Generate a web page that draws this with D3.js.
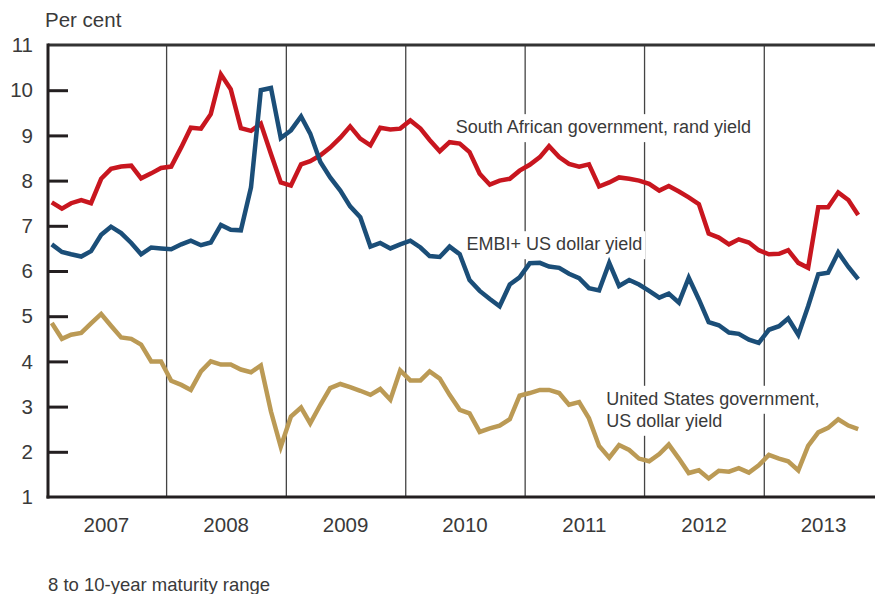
<!DOCTYPE html>
<html>
<head>
<meta charset="utf-8">
<script src="https://cdn.jsdelivr.net/npm/d3@7"></script>
<style>
  body { margin: 0; background: #fff; }
  svg text { font-family: "Liberation Sans", Arial, sans-serif; fill: #3a3a3a; }
</style>
</head>
<body>
<svg id="grafico" width="875" height="594"></svg>
<script>
// monthly data, Jan 2007 .. Oct 2013
const firstMonth = new Date(2007, 0, 1);
const lastMonth = new Date(2013, 9, 1);

const saRandYield = [
  7.52, 7.38, 7.50, 7.57, 7.50, 8.04, 8.26, 8.31, 8.33, 8.05, 8.16, 8.28,
  8.31, 8.74, 9.17, 9.15, 9.47, 10.35, 10.02, 9.16, 9.10, 9.26, 8.59, 7.96,
  7.89, 8.36, 8.43, 8.56, 8.73, 8.95, 9.20, 8.93, 8.78, 9.17, 9.13, 9.15,
  9.33, 9.15, 8.90, 8.65, 8.85, 8.82, 8.63, 8.15, 7.91, 8.00, 8.04, 8.22,
  8.35, 8.52, 8.76, 8.52, 8.37, 8.31, 8.36, 7.87, 7.96, 8.07, 8.04, 8.00,
  7.93, 7.78, 7.88, 7.76, 7.63, 7.48, 6.83, 6.74, 6.59, 6.70, 6.63, 6.46,
  6.37, 6.38, 6.46, 6.18, 6.07, 7.41, 7.41, 7.74, 7.57, 7.24
];

const embiYield = [
  6.59, 6.42, 6.37, 6.32, 6.44, 6.80, 6.98, 6.84, 6.62, 6.37, 6.52, 6.50,
  6.48, 6.59, 6.67, 6.57, 6.63, 7.02, 6.91, 6.90, 7.85, 10.00, 10.05, 8.94,
  9.11, 9.42, 9.04, 8.41, 8.07, 7.78, 7.43, 7.19, 6.54, 6.62, 6.50, 6.59,
  6.67, 6.52, 6.33, 6.31, 6.54, 6.37, 5.80, 5.56, 5.38, 5.22, 5.70, 5.86,
  6.17, 6.18, 6.10, 6.07, 5.94, 5.84, 5.62, 5.57, 6.18, 5.67, 5.80, 5.70,
  5.56, 5.41, 5.50, 5.30, 5.85, 5.37, 4.87, 4.80, 4.64, 4.61, 4.48, 4.41,
  4.70, 4.78, 4.95, 4.59, 5.22, 5.93, 5.96, 6.41, 6.09, 5.82
];

const usYield = [
  4.85, 4.50, 4.59, 4.63, 4.84, 5.05, 4.79, 4.53, 4.50, 4.37, 4.00, 4.00,
  3.57, 3.48, 3.37, 3.78, 4.00, 3.93, 3.93, 3.82, 3.76, 3.91, 2.89, 2.11,
  2.78, 2.98, 2.63, 3.04, 3.41, 3.50, 3.43, 3.35, 3.26, 3.39, 3.15, 3.80,
  3.58, 3.58, 3.78, 3.62, 3.26, 2.93, 2.85, 2.44, 2.52, 2.58, 2.72, 3.24,
  3.30, 3.37, 3.37, 3.30, 3.04, 3.10, 2.74, 2.13, 1.87, 2.15, 2.04, 1.85,
  1.79, 1.95, 2.16, 1.85, 1.53, 1.59, 1.41, 1.58, 1.56, 1.64, 1.54, 1.70,
  1.93, 1.85, 1.79, 1.59, 2.13, 2.43, 2.53, 2.72, 2.58, 2.50
];

const years = [2007, 2008, 2009, 2010, 2011, 2012, 2013];
const yTicks = [1, 2, 3, 4, 5, 6, 7, 8, 9, 10, 11];

const yLabel = "Per cent";
const footnote = "8 to 10-year maturity range";
const series = [
  {name: "sa",   values: saRandYield, color: "#c8161f",
   label: ["South African government, rand yield"], at: [new Date(2010, 5, 3), 9.05]},
  {name: "embi", values: embiYield,   color: "#1b4e78",
   label: ["EMBI+ US dollar yield"], at: [new Date(2010, 6, 6), 6.46]},
  {name: "us",   values: usYield,     color: "#bb9a55",
   label: ["United States government,", "US dollar yield"], at: [new Date(2011, 8, 6), 3.04]}
];

const width = 875, height = 594;
const margin = {top: 45, right: 0, bottom: 97, left: 48};
const axis_font_size = "20.5px";
const labels_font_size = "18px";

let svg = d3.select("#grafico");

// months, plotted in the middle of each month
let months = d3.timeMonth.range(firstMonth, d3.timeMonth.offset(lastMonth, 1));

let x = d3.scaleTime()
  .domain([new Date(2007, 0, 1), new Date(2014, 0, 1)])
  .range([margin.left - 0.8, margin.left - 0.8 + 7 * 119.5]);

let y = d3.scaleLinear()
  .domain([1, 11])
  .range([height - margin.bottom, margin.top]);

let midMonth = d => d3.timeDay.offset(d, 14);

// vertical year separators
svg.append("g")
  .selectAll("line")
  .data(years.slice(1))
  .join("line")
  .attr("x1", d => x(new Date(d, 0, 1)))
  .attr("x2", d => x(new Date(d, 0, 1)))
  .attr("y1", y(11))
  .attr("y2", y(1))
  .attr("stroke", "#444")
  .attr("stroke-width", 1.3);

// labels of the series, with a white box behind (cuts the separators)
let labels = svg.append("g");
series.forEach(s => {
  s.label.forEach((txt, i) => {
    let t = labels.append("text")
      .attr("x", x(s.at[0]))
      .attr("y", y(s.at[1]) + i * 22)
      .style("font-size", labels_font_size)
      .text(txt);
    let b = t.node().getBBox();
    labels.insert("rect", "text")
      .attr("x", b.x - 3)
      .attr("y", b.y - 3)
      .attr("width", b.width + 6)
      .attr("height", b.height + 8)
      .attr("fill", "#fff");
  });
});

// lines
let line = d3.line()
  .x((d, i) => x(midMonth(months[i])))
  .y(d => y(d));

svg.append("g")
  .selectAll("path")
  .data(series)
  .join("path")
  .attr("d", s => line(s.values))
  .attr("fill", "none")
  .attr("stroke", s => s.color)
  .attr("stroke-width", 4.5)
  .attr("stroke-linejoin", "miter")
  .attr("stroke-linecap", "butt");

// frame: top, left and bottom
svg.append("line")
  .attr("x1", margin.left).attr("x2", width)
  .attr("y1", y(11)).attr("y2", y(11))
  .attr("stroke", "#333").attr("stroke-width", 3);

svg.append("line")
  .attr("x1", margin.left - 1.5).attr("x2", width)
  .attr("y1", y(1)).attr("y2", y(1))
  .attr("stroke", "#231f20").attr("stroke-width", 3);

svg.append("line")
  .attr("x1", margin.left).attr("x2", margin.left)
  .attr("y1", y(11) - 1.5).attr("y2", y(1) + 1.5)
  .attr("stroke", "#231f20").attr("stroke-width", 3);

// y axis (ticks point inward)
let yAxis = d3.axisRight(y)
  .tickValues(yTicks.slice(1, -1))
  .tickSize(20)
  .tickFormat("");

svg.append("g")
  .attr("transform", "translate(" + margin.left + ",0)")
  .call(yAxis)
  .call(g => g.select(".domain").remove())
  .call(g => g.selectAll("line").attr("stroke", "#231f20").attr("stroke-width", 3));

svg.append("g")
  .selectAll("text")
  .data(yTicks)
  .join("text")
  .attr("x", 33)
  .attr("y", d => y(d))
  .attr("dy", "0.35em")
  .attr("text-anchor", "end")
  .style("font-size", axis_font_size)
  .text(d => d);

svg.append("text")
  .attr("x", 45)
  .attr("y", 27)
  .style("font-size", axis_font_size)
  .text(yLabel);

// x axis: year in the middle of each year
svg.append("g")
  .selectAll("text")
  .data(years)
  .join("text")
  .attr("x", d => x(new Date(d, 6, 1)))
  .attr("y", 532)
  .attr("text-anchor", "middle")
  .style("font-size", axis_font_size)
  .text(d => d);

svg.append("text")
  .attr("x", 48)
  .attr("y", 591)
  .style("font-size", "18.5px")
  .text(footnote);
</script>
</body>
</html>
